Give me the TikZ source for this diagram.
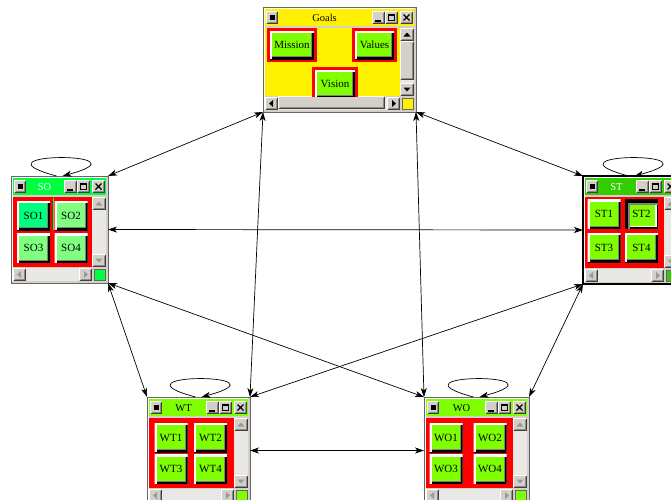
\documentclass[tikz,border=0pt]{standalone}
\usepackage{fontspec}
\setmainfont{Liberation Serif}
\usetikzlibrary{arrows.meta}

\definecolor{wingray}{RGB}{212,208,200}
\definecolor{wintrack}{RGB}{234,232,228}
\definecolor{sogreen}{RGB}{0,255,64}
\definecolor{sofirst}{RGB}{0,255,128}
\definecolor{sopale}{RGB}{128,255,128}
\definecolor{stgreen}{RGB}{51,204,0}
\definecolor{limeface}{RGB}{128,255,0}
\colorlet{arrowcol}{black!40}

\newcommand{\bevel}[4]{%
  \fill[wingray] (#1,#2) rectangle (#3,#4);
  \draw[white] (#1+.5,#4-1) -- (#1+.5,#2+.5) -- (#3-1,#2+.5);
  \draw[black!75] (#1+.5,#4-.5) -- (#3-.5,#4-.5) -- (#3-.5,#2+.5);
  \draw[black!45] (#1+1.5,#4-1.5) -- (#3-1.5,#4-1.5) -- (#3-1.5,#2+1.5);}

\newcommand{\optwin}[9]{%
  \node[winbox, minimum width=#4pt, minimum height=#5pt] (#1) at (#2,#3) {};
  \begin{scope}[shift={(#2,#3)}]
    \draw[white] (1.5,#5-2) -- (1.5,1.5) -- (#4-2,1.5);
    \fill[#7] (2,2) rectangle (#4-2,19);
    \bevel{3}{4}{15}{17}
    \fill (6.5,8) rectangle (11.5,13);
    \bevel{#4-44}{4}{#4-31}{17}
    \fill (#4-41,13) rectangle (#4-35,15);
    \bevel{#4-31}{4}{#4-18}{17}
    \draw (#4-27.5,7.5) rectangle (#4-21.5,13.5);
    \fill (#4-28,7) rectangle (#4-21,9);
    \bevel{#4-16}{4}{#4-3}{17}
    \draw[line width=1.3pt] (#4-12.5,7.5) -- (#4-6.5,13.5) (#4-12.5,13.5) -- (#4-6.5,7.5);
    \node[wintitle, text=#8] (#1-title) at ({(#4-30)/2},11) {#6};
    \fill[#9] (2,21) rectangle (#4-16,#5-16);
    \fill[wintrack] (#4-16,21) rectangle (#4-2,#5-16);
    \bevel{#4-16}{21}{#4-2}{34}
    \fill[arrowcol] (#4-9,25.5) -- (#4-12.5,29.5) -- (#4-5.5,29.5) -- cycle;
    \bevel{#4-16}{#5-29}{#4-2}{#5-16}
    \fill[arrowcol] (#4-9,#5-20.5) -- (#4-12.5,#5-24.5) -- (#4-5.5,#5-24.5) -- cycle;
    \fill[wintrack] (2,#5-15) rectangle (#4-16,#5-2);
    \bevel{2}{#5-15}{15}{#5-2}
    \fill[arrowcol] (6,#5-8.5) -- (10,#5-12) -- (10,#5-5) -- cycle;
    \bevel{#4-29}{#5-15}{#4-16}{#5-2}
    \fill[arrowcol] (#4-20,#5-8.5) -- (#4-24,#5-12) -- (#4-24,#5-5) -- cycle;
    \fill[#7, draw=black!60] (#4-14,#5-14) rectangle (#4-3,#5-3);
  \end{scope}}

\begin{document}
\begin{tikzpicture}[x=1pt,y=-1pt,line width=1pt,
    winbox/.style={anchor=north west, inner sep=0pt, outer sep=0pt, fill=wingray, draw=black!60},
    wintitle/.style={inner sep=0pt, font=\fontsize{10.5}{12}\selectfont},
    btn/.style={fill=#1, minimum width=33pt, minimum height=29pt, inner sep=0pt,
      font=\fontsize{11}{12}\selectfont,
      path picture={
        \draw[black!50, line width=6pt] (path picture bounding box.south west) -| (path picture bounding box.north east);
        \draw[black, line width=4pt] (path picture bounding box.south west) -| (path picture bounding box.north east);
        \draw[white, line width=4pt] (path picture bounding box.south west) |- (path picture bounding box.north east);}},
    pressed/.style={btn=#1,
      path picture={
        \draw[white, line width=6pt] (path picture bounding box.south west) -| (path picture bounding box.north east);
        \draw[black, line width=3pt] (path picture bounding box.south west) rectangle (path picture bounding box.north east);
        \draw[black!50, line width=10pt] (path picture bounding box.south west) |- (path picture bounding box.north east);
        \draw[black, line width=6pt] (path picture bounding box.south west) |- (path picture bounding box.north east);}},
    link/.style={{Stealth[length=9pt,width=6pt,inset=2.5pt]}-{Stealth[length=9pt,width=6pt,inset=2.5pt]}, line width=0.7pt},
    selfloop/.style={-{Stealth[length=9pt,width=6pt,inset=2.5pt]}, line width=0.7pt}]
\useasboundingbox (0,0) rectangle (671,499);
\clip (0,0) rectangle (671,499);

\colorlet{arrowcol}{black}
\optwin{goals}{263}{7}{153}{105}{Goals}{yellow}{black}{yellow}
\bevel{400}{41}{414}{80}
\bevel{278}{96}{385}{109}
\begin{scope}
  \clip (265,25) rectangle (400,96);
  \fill[red] (267,28) rectangle (317,62);
  \fill[red] (352,28) rectangle (397,62);
  \fill[red] (312,67) rectangle (358,100);
  \node[btn=limeface, minimum width=44pt, minimum height=28pt] (mission) at (292,45) {Mission};
  \node[btn=limeface, minimum width=39pt, minimum height=28pt] (values) at (374.5,45) {Values};
  \node[btn=limeface, minimum width=40pt, minimum height=28pt] (vision) at (335,84) {Vision};
\end{scope}

\colorlet{arrowcol}{black!40}
\optwin{so}{11}{176}{97}{107}{SO}{sogreen}{white}{red}
\draw[sogreen] (53,198) -- (53,230);
\node[btn=sofirst] (so1) at (33.5,215.5) {SO1};
\node[btn=sopale] (so2) at (71,215.5) {SO2};
\node[btn=sopale] (so3) at (33.5,248) {SO3};
\node[btn=sopale] (so4) at (71,248) {SO4};

\optwin{st}{583}{176}{97}{108}{ST}{stgreen}{white}{red}
\draw[line width=2pt] (st.north west) rectangle (st.south east);
\node[btn=limeface] (st1) at (604,214) {ST1};
\node[pressed=limeface] (st2) at (641.5,214) {ST2};
\node[btn=limeface] (st3) at (604,247.5) {ST3};
\node[btn=limeface] (st4) at (641.5,247.5) {ST4};

\optwin{wt}{147}{397}{103}{107}{WT}{limeface}{black}{red}
\node[btn=limeface] (wt1) at (171,437.5) {WT1};
\node[btn=limeface] (wt2) at (210.5,437.5) {WT2};
\node[btn=limeface] (wt3) at (171,469) {WT3};
\node[btn=limeface] (wt4) at (210.5,469) {WT4};

\optwin{wo}{424}{397}{105}{107}{WO}{limeface}{black}{red}
\node[btn=limeface] (wo1) at (446,437.5) {WO1};
\node[btn=limeface] (wo2) at (490,437.5) {WO2};
\node[btn=limeface] (wo3) at (446,469) {WO3};
\node[btn=limeface] (wo4) at (490,469) {WO4};

\draw[link] (goals.south west) -- (so.north east);
\draw[link] (goals.south west) -- (wt.north east);
\draw[link] (goals.south east) -- (wo.north west);
\draw[link] (goals.south east) -- (st.north west);
\draw[link] (so.east) -- (st.west);
\draw[link] (so.south east) -- (wt.north west);
\draw[link] (so.south east) -- (wo.north west);
\draw[link] (st.south west) -- (wt.north east);
\draw[link] (st.south west) -- (wo.north east);
\draw[link] (wt.east) -- (wo.west);

\draw[selfloop] ([xshift=-3pt]so.north) to[out=165,in=15,min distance=94pt] ([xshift=3pt]so.north);
\draw[selfloop] ([xshift=-3pt]st.north) to[out=165,in=15,min distance=94pt] ([xshift=3pt]st.north);
\draw[selfloop] ([xshift=-3pt]wt.north) to[out=165,in=15,min distance=94pt] ([xshift=3pt]wt.north);
\draw[selfloop] ([xshift=-3pt]wo.north) to[out=165,in=15,min distance=94pt] ([xshift=3pt]wo.north);
\end{tikzpicture}
\end{document}
